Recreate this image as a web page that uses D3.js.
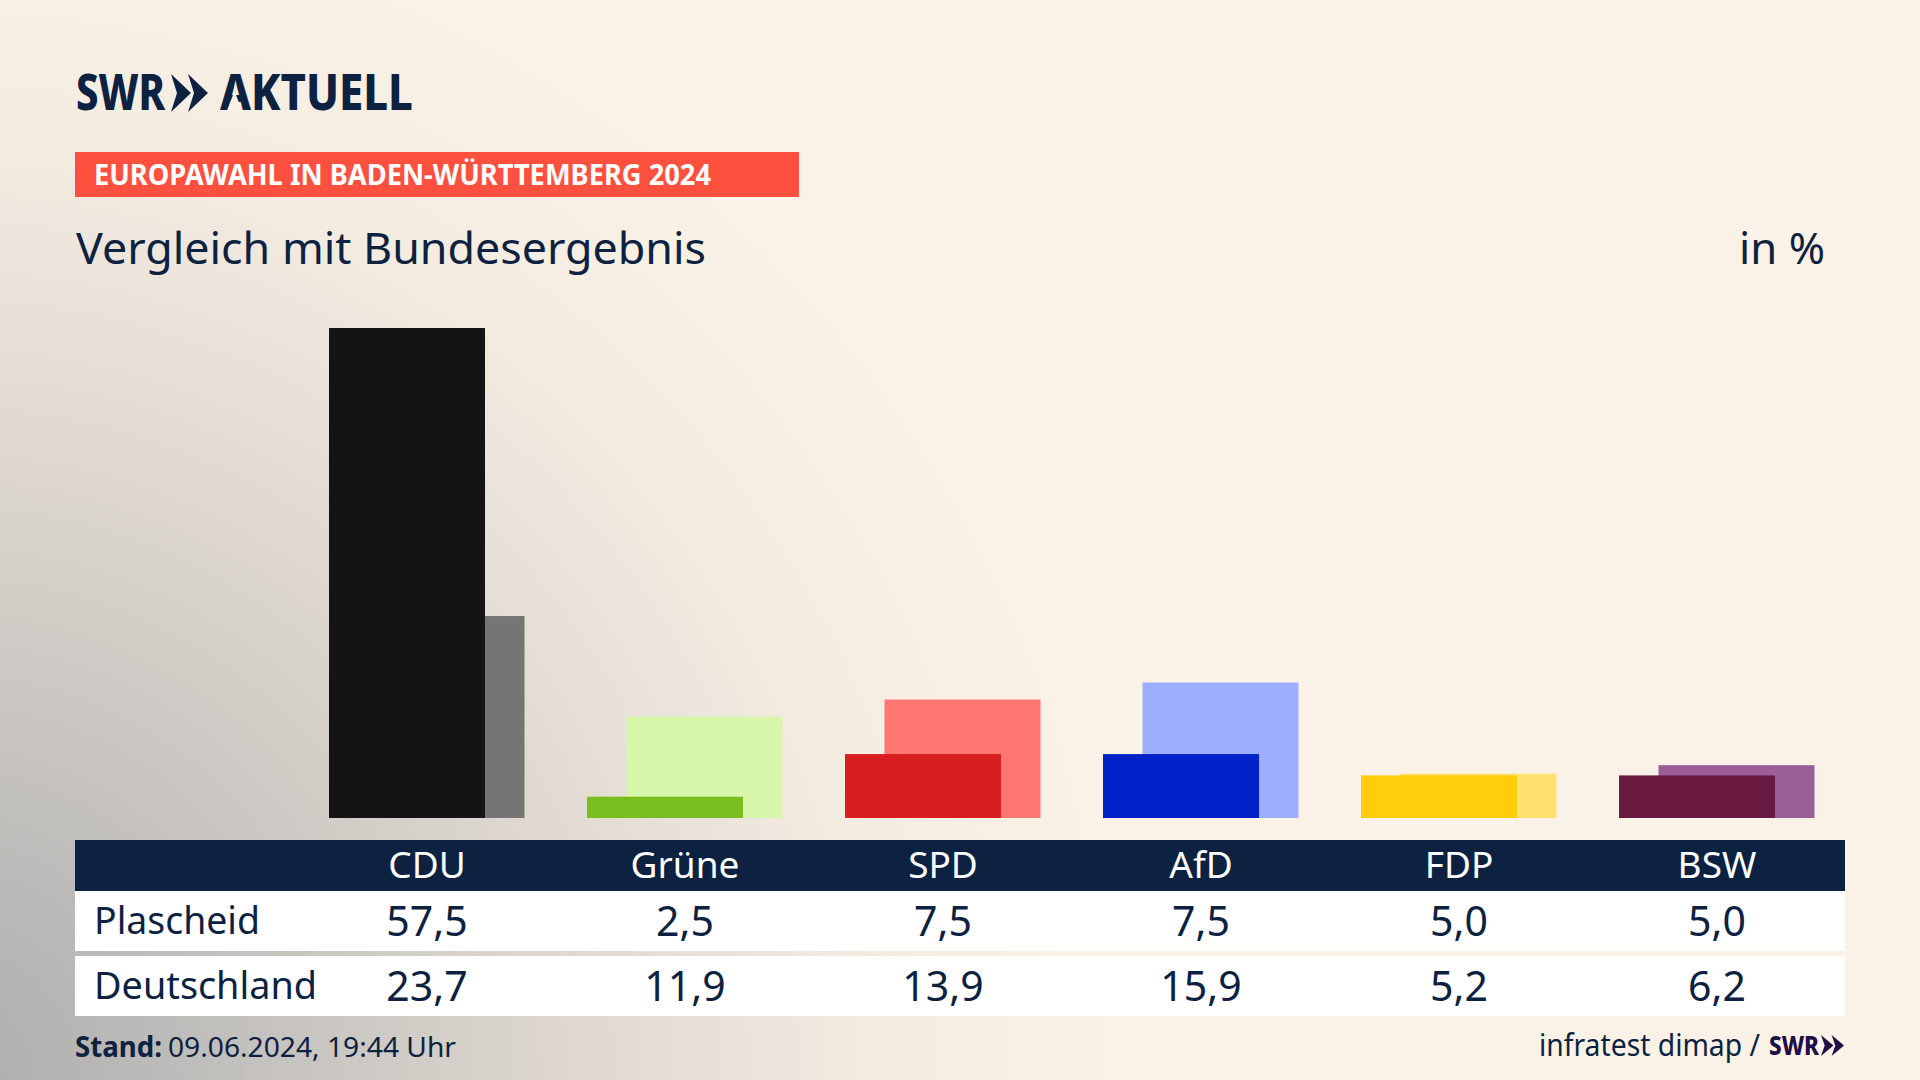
<!DOCTYPE html>
<html lang="de">
<head>
<meta charset="utf-8">
<title>Vergleich mit Bundesergebnis</title>
<script src="https://cdn.jsdelivr.net/npm/d3@7"></script>
<style>
  html, body { margin: 0; padding: 0; background: #fbf2e7; }
  svg { display: block; }
  text { font-family: "Noto Sans", sans-serif; fill: #0c2240; }
</style>
</head>
<body>
<div id="containerDiv"></div>
<script>
// data
const parties = ["CDU", "Grüne", "SPD", "AfD", "FDP", "BSW"];
const plascheid = [57.5, 2.5, 7.5, 7.5, 5.0, 5.0];
const deutschland = [23.7, 11.9, 13.9, 15.9, 5.2, 6.2];
const rowLabels = ["Plascheid", "Deutschland"];
const frontColors = ["#141414", "#78be1e", "#d81e1e", "#0020c8", "#ffcd0a", "#6a1a40"];
const backColors = ["#767573", "#d7f6aa", "#ff7570", "#9dadff", "#ffe16e", "#9a5f97"];

const w = 1920, h = 1080;
const navy = "#0c2240";

const svg = d3.select("#containerDiv").append("svg").attr("width", w).attr("height", h);

// grey glow coming from the bottom left corner
const defs = svg.append("defs");
const glow = defs.append("radialGradient")
  .attr("id", "glow")
  .attr("gradientUnits", "userSpaceOnUse")
  .attr("cx", -60).attr("cy", 1080).attr("r", 1180);
[[0, "#adacaa"], [0.25, "#c2c0bd"], [0.55, "#dfd9d1"], [0.8, "#f4ece1"], [1, "#fbf2e7"]].forEach((s) => {
  glow.append("stop").attr("offset", s[0]).attr("stop-color", s[1]);
});
svg.append("rect").attr("width", w).attr("height", h).attr("fill", "url(#glow)");

// helper for text that has to fill a given width
function label(x, y, str, size, weight, width) {
  const t = svg.append("text").attr("x", x).attr("y", y)
    .attr("font-size", size).attr("font-weight", weight).text(str);
  if (width) t.attr("textLength", width).attr("lengthAdjust", "spacingAndGlyphs");
  return t;
}
// the two chevrons of the SWR logo
function chevrons(x, y, ww, hh, color) {
  const one = ww * 0.54, step = ww - one;
  [0, step].forEach((dx) => {
    const x0 = x + dx;
    svg.append("path")
      .attr("d", `M${x0},${y} L${x0 + one},${y + hh / 2} L${x0},${y + hh} L${x0 + one * 0.3},${y + hh / 2} Z`)
      .attr("fill", color);
  });
}

// logo
label(76, 110, "SWR", 49, 800, 89);
chevrons(171, 74, 37, 38, navy);
label(220, 110, "AKTUELL", 49, 800, 193);
// the logo's A has no crossbar, cover it with the background colour
svg.append("path").attr("d", "M234.5,91 L242,110.5 L227,110.5 Z").attr("fill", "#f9f1e6");

// red title band
svg.append("rect").attr("x", 75).attr("y", 152).attr("width", 724).attr("height", 45).attr("fill", "#fe503f");
label(94, 185, "EUROPAWAHL IN BADEN-WÜRTTEMBERG 2024", 29, 700, 617).style("fill", "#fff");

// sub title and unit
label(76, 264, "Vergleich mit Bundesergebnis", 44, 400, 630);
label(1739, 264, "in %", 44, 400, 86);

// scales
const xScale = d3.scaleBand().domain(parties).range([298, 1846]);
const yScale = d3.scaleLinear().domain([0, 57.5]).range([818, 328]);
const barW = 156;

// back bars = Deutschland, front bars = Plascheid
svg.append("g").selectAll("rect").data(parties).enter().append("rect")
  .attr("x", (d) => xScale(d) + xScale.bandwidth() / 2 - 58.5)
  .attr("y", (d, i) => yScale(deutschland[i]))
  .attr("width", barW)
  .attr("height", (d, i) => yScale(0) - yScale(deutschland[i]))
  .attr("fill", (d, i) => backColors[i]);
svg.append("g").selectAll("rect").data(parties).enter().append("rect")
  .attr("x", (d) => xScale(d) + xScale.bandwidth() / 2 - 98)
  .attr("y", (d, i) => yScale(plascheid[i]))
  .attr("width", barW)
  .attr("height", (d, i) => yScale(0) - yScale(plascheid[i]))
  .attr("fill", (d, i) => frontColors[i]);

// table background
svg.append("rect").attr("x", 75).attr("y", 840).attr("width", 1770).attr("height", 51).attr("fill", navy);
svg.append("rect").attr("x", 75).attr("y", 891).attr("width", 1770).attr("height", 60).attr("fill", "#fff");
svg.append("rect").attr("x", 75).attr("y", 956).attr("width", 1770).attr("height", 60).attr("fill", "#fff");

// party names as x axis inside the table header
const gX = svg.append("g")
  .attr("transform", "translate(0,852)")
  .call(d3.axisBottom(xScale).tickSize(0).tickPadding(0));
gX.select(".domain").remove();
gX.selectAll(".tick text")
  .attr("font-family", null)
  .attr("font-size", 37)
  .style("fill", "#fff");

// table rows
const fmt = d3.formatLocale({ decimal: ",", thousands: ".", grouping: [3], currency: ["", ""] }).format(".1f");
const rows = [plascheid, deutschland];
const rowY = [936, 1001];
const rowW = [166, 223];
rows.forEach((values, r) => {
  label(94, rowY[r] - 2, rowLabels[r], 39, 400, rowW[r]);
  svg.append("g").selectAll("text").data(values).enter().append("text")
    .attr("x", (d, i) => xScale(parties[i]) + xScale.bandwidth() / 2)
    .attr("y", rowY[r])
    .attr("text-anchor", "middle")
    .attr("font-size", 41)
    .text((d) => fmt(d));
});

// footer
label(75, 1057, "Stand:", 28, 700, 87);
label(168, 1057, "09.06.2024, 19:44 Uhr", 28, 400, 288);
label(1539, 1056, "infratest dimap /", 30, 400, 221);
label(1769, 1055, "SWR", 27, 800, 50).style("fill", "#1f0f46");
chevrons(1821, 1035, 23, 21, "#1f0f46");
</script>
</body>
</html>
